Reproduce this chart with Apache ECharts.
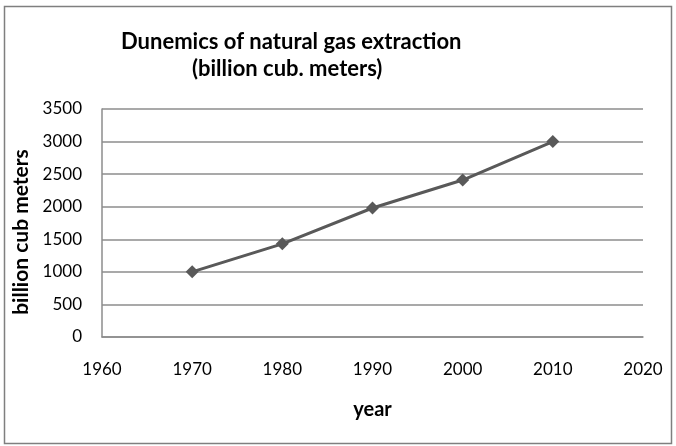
<!DOCTYPE html>
<html>
<head>
<meta charset="utf-8">
<script src="https://cdn.jsdelivr.net/npm/echarts@6/dist/echarts.min.js"></script>
<style>
  html, body { margin: 0; padding: 0; background: #fff; }
  #chart { width: 676px; height: 446px; }
</style>
</head>
<body>
<div id="chart"></div>
<script>
// data
var years = [1970, 1980, 1990, 2000, 2010];
var gas_values = [1000, 1430, 1980, 2410, 3000];

var myChart = echarts.init(document.getElementById("chart"));
var font = "Lato, 'Open Sans', sans-serif";

var points = [];
for (var i = 0; i < years.length; i++) points.push([years[i], gas_values[i]]);

var option = {
    animation: false,
    backgroundColor: "#fff",
    textStyle: { fontFamily: font },
    title: [
        {
            text: "Dunemics of natural gas extraction",
            left: 121, top: 31, padding: 0,
            textStyle: { fontSize: 22, fontWeight: "bold", color: "#000", fontFamily: font }
        },
        {
            text: "(billion cub. meters)",
            left: 192, top: 58, padding: 0,
            textStyle: { fontSize: 22, fontWeight: "bold", color: "#000", fontFamily: font }
        }
    ],
    graphic: [{
        type: "rect",
        shape: { x: 4.5, y: 6.5, width: 667, height: 437 },
        style: { fill: null, stroke: "#7f7f7f", lineWidth: 1.5 },
        silent: true
    }],
    grid: { left: 102, right: 33, top: 109, bottom: 109, containLabel: false },
    xAxis: {
        type: "value",
        min: 1960, max: 2020, interval: 10,
        name: "year",
        nameLocation: "middle",
        nameGap: 63,
        nameTextStyle: { fontSize: 20, fontWeight: "bold", color: "#000", fontFamily: font },
        axisLine: { show: true, lineStyle: { color: "#8c8c8c", width: 1.5 } },
        axisTick: { show: false },
        splitLine: { show: false },
        axisLabel: {
            fontSize: 17, color: "#000", margin: 24, fontFamily: font,
            formatter: function (v) { return String(v); }
        }
    },
    yAxis: {
        type: "value",
        min: 0, max: 3500, interval: 500,
        name: "billion cub meters",
        nameLocation: "middle",
        nameGap: 68,
        nameTextStyle: {
            fontSize: 21, fontWeight: "bold", color: "#000", fontFamily: font,
            padding: [0, 18, 0, 0]
        },
        axisLine: { show: true, lineStyle: { color: "#8c8c8c", width: 1.5 } },
        axisTick: { show: false },
        splitLine: { show: true, lineStyle: { color: "#8c8c8c", width: 1.5 } },
        axisLabel: {
            fontSize: 17, color: "#000", margin: 20, fontFamily: font,
            formatter: function (v) { return String(v); }
        }
    },
    series: [{
        type: "line",
        data: points,
        symbol: "diamond",
        symbolSize: 13,
        lineStyle: { color: "#595959", width: 3 },
        itemStyle: { color: "#595959" }
    }]
};

myChart.setOption(option);
</script>
</body>
</html>
